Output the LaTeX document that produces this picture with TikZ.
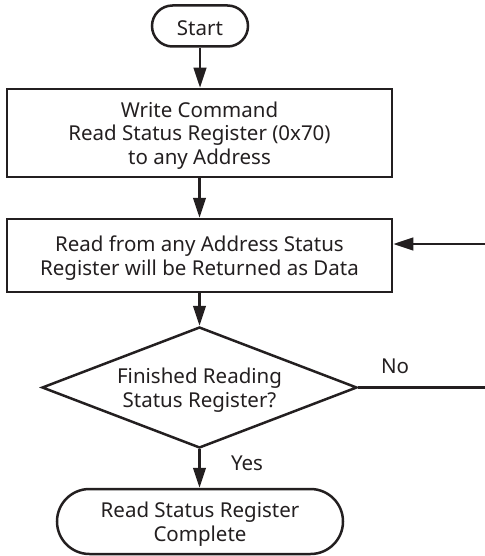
\documentclass[tikz,border=0pt]{standalone}
\usepackage{fontspec}
\setmainfont{Noto Sans}
\usetikzlibrary{shapes.misc,shapes.geometric,arrows.meta}
\definecolor{ink}{HTML}{231F20}
\begin{document}
\begin{tikzpicture}[x=1pt,y=1pt,
  every node/.style={text=ink,font=\fontsize{20.5}{23.5}\selectfont,align=center},
  ln/.style={draw=ink,line width=2.5pt},
  term/.style={ln,rounded rectangle,inner sep=0pt},
  procbox/.style={ln,rectangle,inner sep=0pt,minimum width=385pt},
  dia/.style={ln,diamond,inner sep=0pt,minimum width=315pt,minimum height=121pt},
  txt/.style={yshift=-2.5pt},
  arr/.style={draw=ink,line width=2.5pt,-{Triangle[length=20pt,width=12.5pt]}},
  lbl/.style={font=\fontsize{20.5}{23}\selectfont}]
\useasboundingbox (0,0) rectangle (484,-556);
\node[term,minimum width=96pt,minimum height=41pt] (start) at (200,-26) {};
\node[txt] (startt) at (start.center) {Start};
\node[procbox,minimum height=88pt] (b1) at (199.5,-133) {};
\node[txt] (b1t) at (b1.center) {Write Command\\Read Status Register (0x70)\\to any Address};
\node[procbox,minimum height=73pt] (b2) at (199.5,-255.5) {};
\node[txt] (b2t) at (b2.center) {Read from any Address Status\\Register will be Returned as Data};
\node[dia] (d) at (199.5,-387.5) {};
\node[txt] (dt) at (d.center) {Finished Reading\\Status Register?};
\node[term,minimum width=286pt,minimum height=65pt] (end) at (200,-521.5) {};
\node[txt] (endt) at (end.center) {Read Status Register\\Complete};
\coordinate (r1) at (486,-387.5);
\coordinate (r2) at (486,-244);
\draw[arr] (start.south) -- (start.south |- b1.north);
\draw[arr] (b1.south) -- (b2.north);
\draw[arr] (b2.south) -- (d.north);
\draw[arr] (d.south) -- (d.south |- end.north);
\draw[ln] (d.east) -- (r1);
\draw[arr] (r2) -- (b2.east |- r2);
\node[lbl] (no) at (395,-366) {No};
\node[lbl] (yes) at (247,-463) {Yes};
\end{tikzpicture}
\end{document}
